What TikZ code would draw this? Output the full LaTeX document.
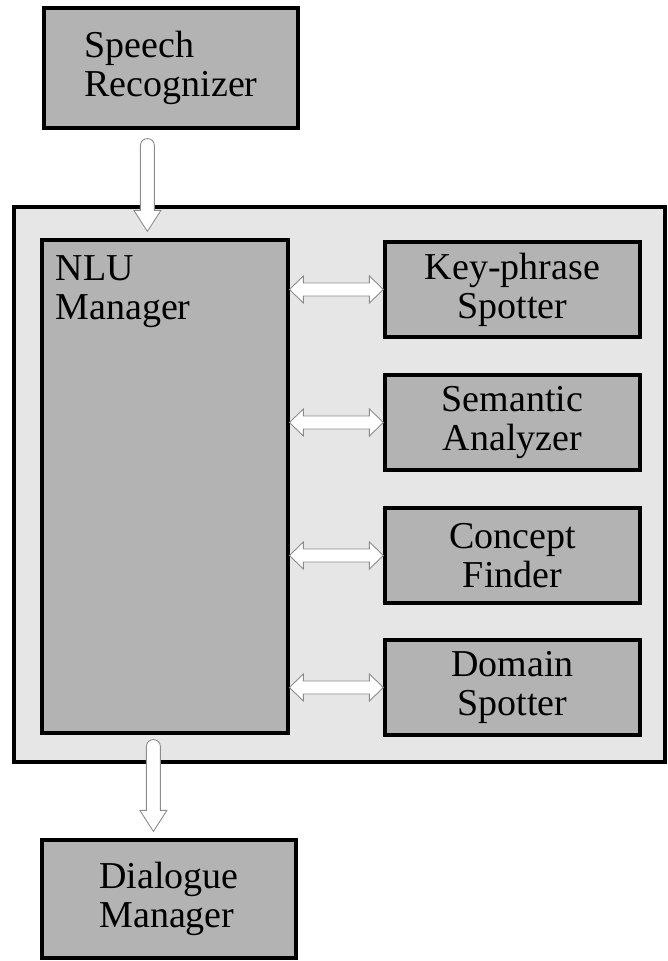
\documentclass[tikz,border=0pt]{standalone}
\usepackage{fontspec}
\setmainfont{Liberation Serif}
\usetikzlibrary{calc}
\definecolor{boxgray}{HTML}{B3B3B3}
\definecolor{panelgray}{HTML}{E6E6E6}
\definecolor{arrowline}{HTML}{8C8C8C}
\begin{document}
\begin{tikzpicture}[x=1pt,y=-1pt,
  blockbox/.style={draw=black, line width=3.2pt, fill=boxgray, inner sep=0pt,
    font=\fontsize{38}{39}\selectfont, text=black},
  panel/.style={draw=black, line width=3.2pt, fill=panelgray, inner sep=0pt},
  blockarrow/.style={draw=arrowline, line width=0.9pt, fill=white, line join=miter}
]
\useasboundingbox (0,0) rectangle (668,961);

% boxes
\node[blockbox, minimum width=254pt, minimum height=120pt, align=left] (sr) at (171,68) {Speech\\Recognizer};
\node[panel, minimum width=651pt, minimum height=555pt] (outer) at (339.5,484.5) {};
\node[blockbox, minimum width=246pt, minimum height=493pt] (nlu) at (165,486.5) {};
\node[font=\fontsize{38}{39}\selectfont, text=black, anchor=north west, inner sep=0pt, align=left] (nlut) at ($(nlu.north west)+(15,17)$) {NLU\\Manager};

\node[blockbox, minimum width=255pt, minimum height=95pt, align=center] (kp) at (512.5,289.5) {Key-phrase\\Spotter};
\node[blockbox, minimum width=255pt, minimum height=95pt, align=center] (sa) at (512.5,422.5) {Semantic\\Analyzer};
\node[blockbox, minimum width=255pt, minimum height=95pt, align=center] (cf) at (512.5,555.5) {Concept\\Finder};
\node[blockbox, minimum width=255pt, minimum height=95pt, align=center] (ds) at (512.5,687.5) {Domain\\Spotter};

\node[blockbox, minimum width=254pt, minimum height=118pt, align=left] (dm) at (169,899) {Dialogue\\Manager};

% double arrows between NLU manager and modules
\foreach \m in {kp,sa,cf,ds}{
  \draw[blockarrow] let \p1=(\m.west) in
    (\x1-94pt,\y1) -- (\x1-80pt,\y1+13.5pt) -- (\x1-80pt,\y1+6.5pt)
    -- (\x1-14pt,\y1+6.5pt) -- (\x1-14pt,\y1+13.5pt) -- (\x1,\y1)
    -- (\x1-14pt,\y1-13.5pt) -- (\x1-14pt,\y1-6.5pt)
    -- (\x1-80pt,\y1-6.5pt) -- (\x1-80pt,\y1-13.5pt) -- cycle;
}

% arrow from speech recognizer into the NLU panel
\draw[blockarrow] let \p1=(sr.south), \p2=(nlu.north west) in
  (\x2+114pt,\y1-9pt-7pt) .. controls (\x2+114pt,\y1-9pt+2.3pt) and (\x2+100pt,\y1-9pt+2.3pt) .. (\x2+100pt,\y1-9pt-7pt)
  -- (\x2+100pt,\y2+28pt) -- (\x2+93.5pt,\y2+28pt) -- (\x2+107pt,\y2+7pt)
  -- (\x2+120.5pt,\y2+28pt) -- (\x2+114pt,\y2+28pt) -- cycle;

% arrow from NLU panel to dialogue manager
\draw[blockarrow] let \p1=(nlu.south west), \p2=(dm.north) in
  (\x1+120pt,\y1-5pt-7pt) .. controls (\x1+120pt,\y1-5pt+2.3pt) and (\x1+106pt,\y1-5pt+2.3pt) .. (\x1+106pt,\y1-5pt-7pt)
  -- (\x1+106pt,\y2+28pt) -- (\x1+99.5pt,\y2+28pt) -- (\x1+113pt,\y2+7pt)
  -- (\x1+126.5pt,\y2+28pt) -- (\x1+120pt,\y2+28pt) -- cycle;
\end{tikzpicture}
\end{document}
